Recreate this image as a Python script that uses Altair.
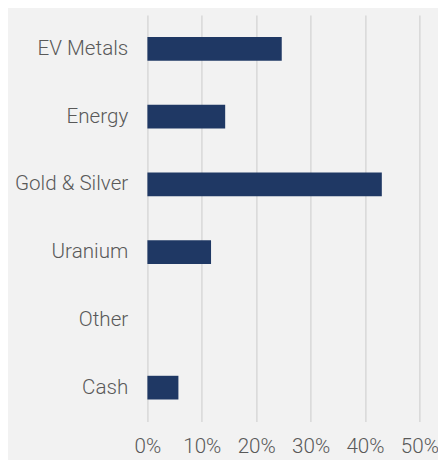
import altair as alt
import pandas as pd

sectors = ["EV Metals", "Energy", "Gold & Silver", "Uranium", "Other", "Cash"]
weights = [0.247, 0.143, 0.431, 0.117, 0.0, 0.057]

df = pd.DataFrame({"sector": sectors, "weight": weights})

chart = alt.Chart(df).mark_bar(color="#1f3864").encode(
    x=alt.X("weight:Q",
            scale=alt.Scale(domain=[0, 0.5], nice=False),
            axis=alt.Axis(format=".0%", values=[0, 0.1, 0.2, 0.3, 0.4, 0.5],
                          title=None, domain=False, ticks=False,
                          grid=True, gridColor="#d9d9d9", gridWidth=1.6,
                          labelFont="Roboto", labelFontWeight=300, labelFontSize=21,
                          labelColor="#595959", labelPadding=15, labelFlush=False)),
    y=alt.Y("sector:N", sort=sectors,
            scale=alt.Scale(paddingInner=0.65, paddingOuter=0.325),
            axis=alt.Axis(title=None, domain=False, ticks=False,
                          labelFont="Roboto", labelFontWeight=300, labelFontSize=21,
                          labelColor="#595959", labelPadding=20)),
).properties(
    width=277,
    height=414,
    background="#f2f2f2",
    autosize=alt.AutoSizeParams(type="none"),
    padding={"left": 142, "top": 3, "right": 19, "bottom": 35},
).configure_view(stroke=None)

chart.save("out.html", embed_options={"renderer": "svg", "actions": False})
